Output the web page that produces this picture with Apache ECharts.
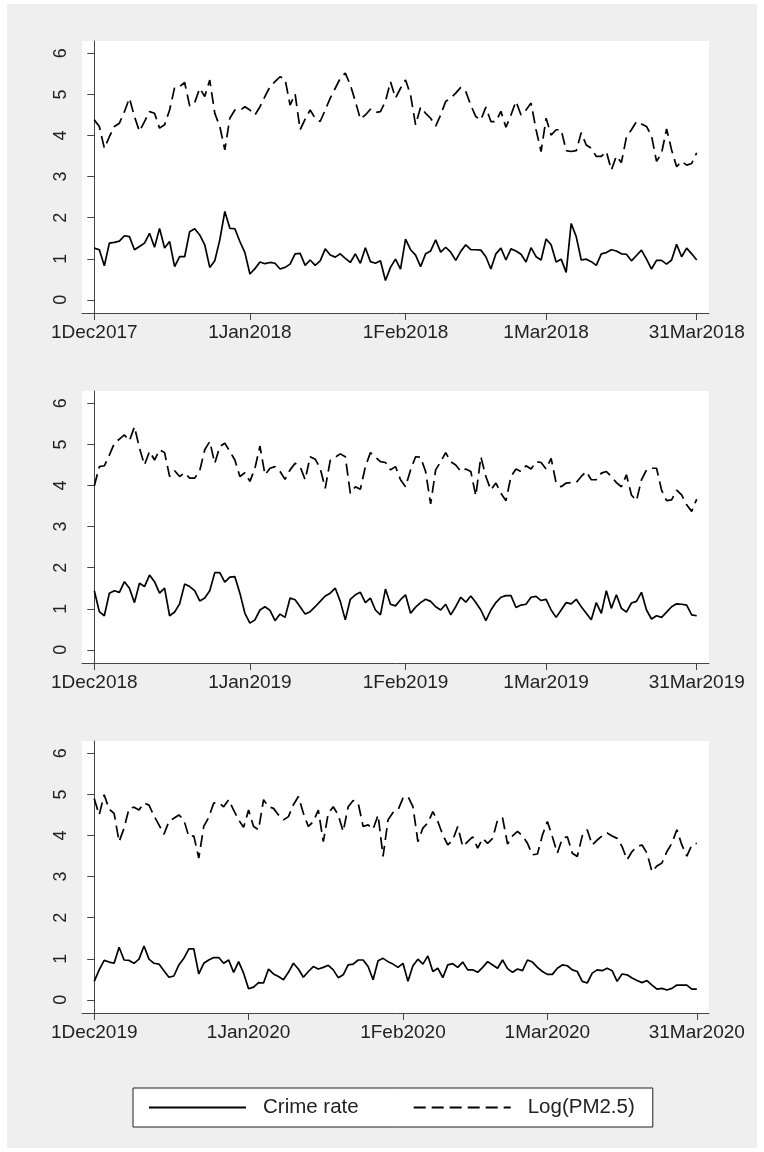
<!DOCTYPE html>
<html>
<head>
<meta charset="utf-8">
<script src="https://cdn.jsdelivr.net/npm/echarts@6/dist/echarts.min.js"></script>
<style>
  html, body { margin: 0; padding: 0; background: #fff; }
  #wrap { position: relative; width: 764px; height: 1152px; }
  #frame { position: absolute; left: 7px; top: 4px; width: 750px; height: 1144px; background: #efefef; }
  #chart { position: absolute; left: 0; top: 0; width: 764px; height: 1152px; }
</style>
</head>
<body>
<div id="wrap">
  <div id="frame"></div>
  <div id="chart"></div>
</div>
<script>
// daily values, day 0 = 1 Dec
const crime2018 = [
  1.26,1.22,0.83,1.38,1.40,1.43,1.56,1.54,1.22,1.30,
  1.38,1.62,1.28,1.74,1.26,1.42,0.81,1.05,1.05,1.66,
  1.73,1.58,1.34,0.79,0.95,1.46,2.15,1.74,1.73,1.42,
  1.15,0.63,0.76,0.92,0.88,0.91,0.89,0.75,0.79,0.87,
  1.12,1.13,0.84,0.97,0.84,0.95,1.24,1.09,1.04,1.12,
  1.01,0.91,1.12,0.89,1.27,0.93,0.89,0.95,0.47,0.79,
  0.99,0.75,1.48,1.22,1.09,0.81,1.12,1.19,1.46,1.16,
  1.28,1.16,0.96,1.18,1.34,1.22,1.22,1.21,1.05,0.75,
  1.12,1.26,0.97,1.24,1.19,1.11,0.92,1.27,1.05,0.97,
  1.48,1.34,0.92,0.99,0.67,1.86,1.54,0.97,0.99,0.93,
  0.84,1.12,1.15,1.22,1.19,1.12,1.11,0.95,1.08,1.21,
  0.99,0.75,0.96,0.96,0.87,0.97,1.35,1.05,1.26,1.12,
  0.97
]
const pm2018 = [
  4.38,4.22,3.69,3.97,4.22,4.30,4.58,4.91,4.46,4.10,
  4.34,4.58,4.54,4.18,4.26,4.62,5.17,5.19,5.29,4.72,
  4.80,5.15,4.95,5.35,4.54,4.22,3.65,4.42,4.62,4.61,
  4.70,4.62,4.50,4.70,4.95,5.19,5.31,5.43,5.37,4.74,
  5.01,4.14,4.40,4.62,4.42,4.34,4.62,4.91,5.15,5.39,
  5.52,5.23,4.83,4.40,4.50,4.64,4.56,4.58,4.83,5.31,
  4.91,5.15,5.35,4.99,4.26,4.69,4.54,4.42,4.23,4.50,
  4.83,4.91,5.03,5.17,5.07,4.74,4.46,4.38,4.69,4.34,
  4.34,4.59,4.20,4.50,4.83,4.50,4.62,4.79,4.14,3.61,
  4.42,4.01,4.14,4.14,3.63,3.61,3.63,4.07,3.77,3.69,
  3.49,3.49,3.61,3.16,3.50,3.34,3.96,4.14,4.34,4.28,
  4.22,3.99,3.37,3.57,4.16,3.65,3.24,3.37,3.28,3.32,
  3.58
]
const crime2019 = [
  1.44,0.93,0.83,1.38,1.44,1.40,1.66,1.50,1.15,1.62,
  1.54,1.82,1.66,1.38,1.50,0.83,0.92,1.12,1.60,1.54,
  1.44,1.19,1.26,1.44,1.88,1.88,1.65,1.77,1.78,1.38,
  0.89,0.65,0.73,0.97,1.05,0.96,0.71,0.87,0.79,1.26,
  1.22,1.05,0.87,0.93,1.05,1.18,1.31,1.38,1.50,1.18,
  0.73,1.23,1.34,1.40,1.15,1.26,0.97,0.85,1.48,1.11,
  1.07,1.22,1.34,0.89,1.04,1.15,1.23,1.18,1.05,0.97,
  1.11,0.85,1.05,1.28,1.16,1.31,1.15,0.97,0.71,0.97,
  1.15,1.28,1.32,1.32,1.03,1.09,1.11,1.28,1.30,1.20,
  1.23,0.97,0.79,0.97,1.15,1.12,1.23,1.05,0.89,0.73,
  1.15,0.89,1.44,1.01,1.34,1.01,0.92,1.14,1.18,1.40,
  0.97,0.75,0.83,0.79,0.92,1.05,1.12,1.11,1.09,0.85,
  0.83
]
const pm2019 = [
  3.99,4.46,4.48,4.74,5.03,5.13,5.23,5.09,5.43,4.91,
  4.50,4.83,4.62,4.87,4.80,4.22,4.36,4.22,4.31,4.18,
  4.18,4.36,4.87,5.07,4.54,4.95,5.03,4.83,4.62,4.22,
  4.31,4.10,4.42,4.96,4.26,4.42,4.46,4.34,4.15,4.38,
  4.54,4.46,4.14,4.70,4.64,4.42,3.93,4.61,4.69,4.77,
  4.70,3.81,3.97,3.91,4.46,4.80,4.69,4.58,4.56,4.38,
  4.46,4.14,3.97,4.38,4.70,4.69,4.34,3.55,4.38,4.58,
  4.80,4.58,4.50,4.34,4.40,4.34,3.75,4.70,4.22,3.89,
  4.06,3.81,3.63,4.22,4.40,4.34,4.48,4.40,4.58,4.56,
  4.40,4.66,4.06,3.97,4.06,4.07,4.07,4.22,4.34,4.14,
  4.14,4.30,4.34,4.22,4.07,3.97,4.26,3.77,3.63,4.14,
  4.38,4.42,4.42,3.89,3.63,3.65,3.89,3.77,3.53,3.37,
  3.67
]
const crime2020 = [
  0.45,0.73,0.96,0.92,0.89,1.28,0.97,0.96,0.89,0.99,
  1.31,0.99,0.89,0.87,0.71,0.55,0.58,0.85,1.01,1.24,
  1.24,0.63,0.89,0.97,1.03,1.03,0.89,0.97,0.67,0.93,
  0.65,0.27,0.31,0.42,0.41,0.75,0.63,0.57,0.49,0.67,
  0.89,0.75,0.55,0.69,0.81,0.75,0.79,0.84,0.73,0.54,
  0.61,0.85,0.87,0.97,0.97,0.81,0.49,0.95,1.01,0.93,
  0.87,0.79,0.89,0.45,0.83,0.99,0.87,1.07,0.69,0.77,
  0.54,0.85,0.88,0.79,0.92,0.73,0.73,0.67,0.79,0.93,
  0.85,0.77,0.97,0.76,0.67,0.75,0.71,0.97,0.92,0.79,
  0.69,0.62,0.62,0.77,0.85,0.83,0.73,0.69,0.45,0.41,
  0.65,0.73,0.71,0.77,0.71,0.45,0.63,0.61,0.53,0.47,
  0.42,0.47,0.36,0.26,0.28,0.24,0.28,0.36,0.36,0.36,
  0.26,0.26
]
const pm2020 = [
  4.90,4.50,4.99,4.64,4.54,3.85,4.18,4.66,4.69,4.62,
  4.79,4.74,4.48,4.26,4.03,4.34,4.42,4.50,4.38,3.97,
  3.99,3.45,4.22,4.44,4.79,4.80,4.70,4.87,4.62,4.38,
  4.20,4.62,4.22,4.14,4.87,4.70,4.66,4.50,4.38,4.46,
  4.75,4.95,4.54,4.22,4.34,4.62,3.85,4.54,4.70,4.50,
  4.10,4.70,4.85,4.79,4.22,4.26,4.15,4.50,3.49,4.38,
  4.56,4.62,4.91,4.95,4.70,3.85,4.18,4.31,4.58,4.34,
  4.01,3.77,3.89,4.22,3.73,3.85,3.97,3.69,3.93,3.81,
  3.93,4.38,4.43,3.79,3.99,4.10,3.99,3.81,3.53,3.55,
  4.01,4.34,3.97,3.57,3.93,3.97,3.57,3.49,3.99,4.14,
  3.77,3.89,3.99,4.06,3.99,3.93,3.73,3.41,3.61,3.73,
  3.77,3.57,3.12,3.26,3.33,3.61,3.81,4.14,3.77,3.50,
  3.77,3.81
]

const tickDays2018 = [0, 31, 62, 90, 120]
const tickLabels2018 = ['1Dec2017', '1Jan2018', '1Feb2018', '1Mar2018', '31Mar2018']
const tickDays2019 = [0, 31, 62, 90, 120]
const tickLabels2019 = ['1Dec2018', '1Jan2019', '1Feb2019', '1Mar2019', '31Mar2019']
const tickDays2020 = [0, 31, 62, 91, 121]
const tickLabels2020 = ['1Dec2019', '1Jan2020', '1Feb2020', '1Mar2020', '31Mar2020']
const yTicks = [0, 1, 2, 3, 4, 5, 6]

const panels = [
  { crime: crime2018, pm: pm2018, days: tickDays2018, labels: tickLabels2018 },
  { crime: crime2019, pm: pm2019, days: tickDays2019, labels: tickLabels2019 },
  { crime: crime2020, pm: pm2020, days: tickDays2020, labels: tickLabels2020 }
]

const FONT = '"Liberation Sans", Arial, sans-serif'
const axisColor = '#444'

const chart = echarts.init(document.getElementById('chart'), null, { renderer: 'canvas' })

const grid = panels.map((p, i) => ({
  left: 82,
  right: 55,
  top: 41 + i * 350,
  height: 272,
  show: true,
  backgroundColor: '#fff',
  borderWidth: 0
}))

const xAxis = panels.map((p, i) => {
  const last = p.days[p.days.length - 1]
  return {
    type: 'value',
    gridIndex: i,
    min: -2.45,
    max: last + 2.45,
    axisLine: { show: true, onZero: false, lineStyle: { color: axisColor, width: 1 } },
    axisTick: { show: true, length: 7, customValues: p.days, lineStyle: { color: axisColor } },
    splitLine: { show: false },
    axisLabel: {
      customValues: p.days,
      formatter: v => p.labels[p.days.indexOf(v)],
      color: '#222',
      fontSize: 19,
      fontFamily: FONT,
      margin: 10
    }
  }
})

const yAxis = panels.map((p, i) => ({
  type: 'value',
  gridIndex: i,
  min: -0.32,
  max: 6.3,
  axisLine: { show: true, lineStyle: { color: axisColor, width: 1 } },
  axisTick: { show: true, length: 7, customValues: yTicks, lineStyle: { color: axisColor } },
  splitLine: { show: false },
  axisLabel: {
    customValues: yTicks,
    rotate: 90,
    color: '#222',
    fontSize: 18,
    fontFamily: FONT,
    margin: 12
  }
}))

const series = []
panels.forEach((p, i) => {
  series.push({
    name: 'Crime rate',
    type: 'line',
    xAxisIndex: i,
    yAxisIndex: i,
    data: p.crime.map((v, d) => [d, v]),
    symbol: 'none',
    color: '#000',
    lineStyle: { color: '#000', width: 1.7 }
  })
  series.push({
    name: 'Log(PM2.5)',
    type: 'line',
    xAxisIndex: i,
    yAxisIndex: i,
    data: p.pm.map((v, d) => [d, v]),
    symbol: 'none',
    color: '#000',
    lineStyle: { color: '#000', width: 1.7, type: [12, 6] }
  })
})

const option = {
  animation: false,
  grid,
  xAxis,
  yAxis,
  legend: {
    data: ['Crime rate', 'Log(PM2.5)'],
    left: 133,
    top: 1088,
    orient: 'horizontal',
    backgroundColor: '#fff',
    borderColor: '#222',
    borderWidth: 1,
    borderRadius: 0,
    padding: [9, 18, 9, 15],
    itemWidth: 97,
    itemHeight: 14,
    itemGap: 54,
    selectedMode: false,
    itemStyle: { color: 'rgba(0,0,0,0)', borderWidth: 0, opacity: 0 },
    textStyle: { color: '#222', fontSize: 20.5, fontFamily: FONT, padding: [0, 0, 0, 12] }
  },
  series
}

chart.setOption(option)
</script>
</body>
</html>
